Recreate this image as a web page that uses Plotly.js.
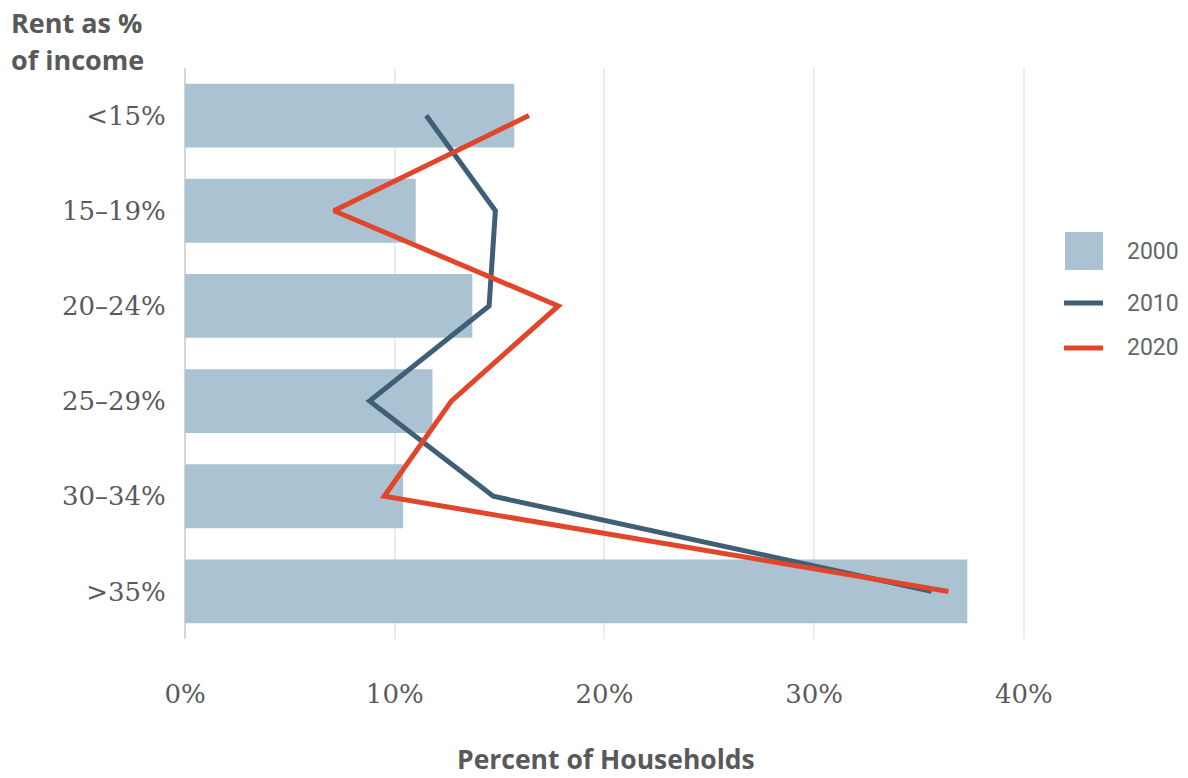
<!DOCTYPE html>
<html>
<head>
<meta charset="utf-8">
<script src="https://cdn.plot.ly/plotly-3.0.1.min.js"></script>
<style>
  html, body { margin: 0; padding: 0; background: #ffffff; }
  #chart { width: 1188px; height: 778px; }
</style>
</head>
<body>
<div id="chart"></div>
<script>
// Share of renter households by rent burden (rent as % of income)
const categories = ['<15%', '15–19%', '20–24%', '25–29%', '30–34%', '>35%'];
const values2000 = [15.7, 11.0, 13.7, 11.8, 10.4, 37.3];
const values2010 = [11.5, 14.8, 14.5, 8.8, 14.7, 35.6];
const values2020 = [16.4, 7.1, 17.8, 12.7, 9.5, 36.4];
const xTickValues = [0, 10, 20, 30, 40];
const xTickLabels = ['0%', '10%', '20%', '30%', '40%'];
const seriesNames = ['2000', '2010', '2020'];

const colors = { bar: '#aac2d2', s2010: '#3e5f76', s2020: '#e2462a' };

const W = 1188, H = 778;
const margin = { l: 185, r: 162, t: 68, b: 139 };
const plotW = W - margin.l - margin.r;
const plotH = H - margin.t - margin.b;
const px = x => (x - margin.l) / plotW;
const py = y => 1 - (y - margin.t) / plotH;

const traces = [
  {
    type: 'bar', orientation: 'h', name: seriesNames[0],
    x: values2000, y: categories,
    marker: { color: colors.bar }, hoverinfo: 'x+y'
  },
  {
    type: 'scatter', mode: 'lines', name: seriesNames[1],
    x: values2010, y: categories,
    line: { color: colors.s2010, width: 5 }
  },
  {
    type: 'scatter', mode: 'lines', name: seriesNames[2],
    x: values2020, y: categories,
    line: { color: colors.s2020, width: 5 }
  }
];

const titleFont = { family: '"Open Sans", Roboto, sans-serif', size: 27, color: '#595959' };

// Legend drawn as shapes + labels on the right side
const legendRows = [
  { name: seriesNames[0], y: 251, kind: 'box', color: colors.bar },
  { name: seriesNames[1], y: 303, kind: 'line', color: colors.s2010 },
  { name: seriesNames[2], y: 348, kind: 'line', color: colors.s2020 }
];
const shapes = [];
const annotations = [];
legendRows.forEach(r => {
  if (r.kind === 'box') {
    shapes.push({ type: 'rect', xref: 'paper', yref: 'paper',
      x0: px(1065), x1: px(1103), y0: py(r.y - 19), y1: py(r.y + 19),
      fillcolor: r.color, line: { width: 0 } });
  } else {
    shapes.push({ type: 'line', xref: 'paper', yref: 'paper',
      x0: px(1064), x1: px(1103), y0: py(r.y), y1: py(r.y),
      line: { color: r.color, width: 5 } });
  }
  annotations.push({ xref: 'paper', yref: 'paper', x: px(1125), y: py(r.y),
    xanchor: 'left', yanchor: 'middle', showarrow: false, text: r.name,
    font: { family: 'Roboto, sans-serif', size: 23, color: '#666666' } });
});

// Axis-category heading, two lines
[['Rent as %', 23], ['of income', 60]].forEach(([t, y]) => {
  annotations.push({
    xref: 'paper', yref: 'paper', x: px(9), y: py(y),
    xanchor: 'left', yanchor: 'middle', showarrow: false,
    text: '<b>' + t + '</b>', font: titleFont
  });
});
annotations.push({
  xref: 'paper', yref: 'paper', x: 0.5, y: py(759),
  xanchor: 'center', yanchor: 'middle', showarrow: false,
  text: '<b>Percent of Households</b>',
  font: Object.assign({}, titleFont, { size: 26.5 })
});

const tickFont = { family: '"DejaVu Serif", serif', size: 26, color: '#5a5a5a' };

const layout = {
  width: W, height: H,
  margin: margin,
  paper_bgcolor: '#ffffff', plot_bgcolor: '#ffffff',
  showlegend: false,
  bargap: 0.33,
  xaxis: {
    range: [0, 40.1], tickvals: xTickValues, ticktext: xTickLabels,
    showgrid: true, gridcolor: '#ececec', gridwidth: 2,
    zeroline: true, zerolinecolor: '#d6d6d6', zerolinewidth: 2,
    ticks: 'outside', ticklen: 32, tickcolor: 'rgba(0,0,0,0)',
    tickfont: tickFont, fixedrange: true
  },
  yaxis: {
    type: 'category', categoryorder: 'array', categoryarray: categories,
    range: [5.5, -0.5], showgrid: false, zeroline: false,
    ticks: 'outside', ticklen: 13, tickcolor: 'rgba(0,0,0,0)',
    tickfont: tickFont, fixedrange: true
  },
  shapes: shapes,
  annotations: annotations
};

Plotly.newPlot('chart', traces, layout, { displayModeBar: false, staticPlot: true });
</script>
</body>
</html>
